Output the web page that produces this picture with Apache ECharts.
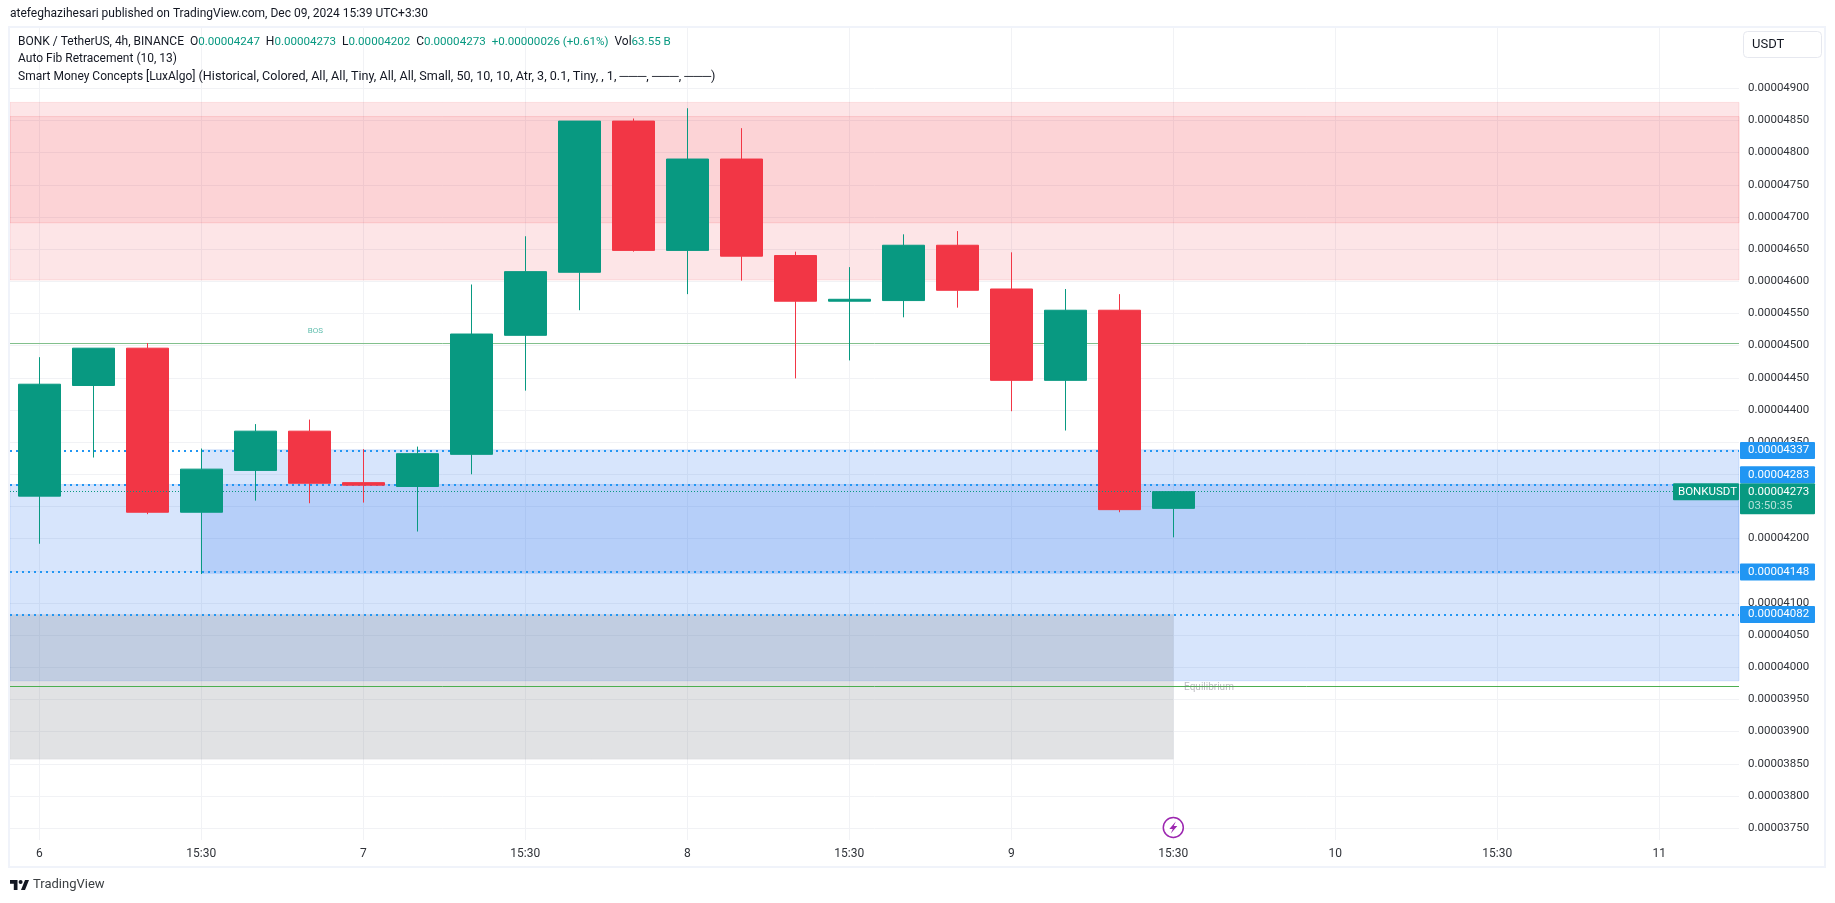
<!DOCTYPE html>
<html>
<head>
  <meta charset="utf-8">
  <title>BONKUSDT 4h</title>
  <script src="https://cdn.jsdelivr.net/npm/echarts@6/dist/echarts.min.js"></script>
  <style>
    html, body { margin: 0; padding: 0; background: #fff; }
  </style>
</head>
<body>
<div id="main" style="width: 1835px;height:903px;"></div>
<script type="text/javascript">
  // prices are in units of 0.00000001 USDT, the axis formatter turns them back
  var opens  = [4266, 4438, 4496, 4241, 4306, 4367, 4287, 4281, 4331, 4516, 4614, 4849, 4648, 4790, 4640, 4569, 4570, 4656, 4588, 4446, 4555, 4247];
  var closes = [4440, 4496, 4241, 4308, 4367, 4286, 4283, 4332, 4518, 4615, 4849, 4648, 4790, 4639, 4569, 4572, 4656, 4586, 4446, 4555, 4245, 4273];
  var lows   = [4192, 4326, 4238, 4145, 4259, 4255, 4256, 4211, 4300, 4430, 4555, 4646, 4580, 4601, 4449, 4477, 4544, 4559, 4398, 4368, 4241, 4202];
  var highs  = [4482, 4496, 4504, 4340, 4378, 4385, 4339, 4343, 4595, 4670, 4849, 4853, 4869, 4838, 4646, 4622, 4673, 4678, 4645, 4588, 4580, 4273];

  var timeTicks = [0, 3, 6, 9, 12, 15, 18, 21, 24, 27, 30];
  var timeLabels = ['6', '15:30', '7', '15:30', '8', '15:30', '9', '15:30', '10', '15:30', '11'];
  var priceTicks = [3750, 3800, 3850, 3900, 3950, 4000, 4050, 4100, 4150, 4200, 4250, 4300, 4350, 4400, 4450, 4500, 4550, 4600, 4650, 4700, 4750, 4800, 4850, 4900];

  // zones: [x from, x to, price top, price bottom]
  var xMin = -0.5426, xMax = 31.476;
  var premiumZone = [xMin, xMax, 4878, 4602];
  var premiumInner = [xMin, xMax, 4856, 4691];
  var demandZone = [xMin, xMax, 4284, 3979];
  var demandInner = [3, xMax, 4338, 4146];
  var grayZone = [xMin, 21, 4082, 3857];

  var dottedLevels = [4337, 4283, 4148, 4082];
  var bosLevel = 4503;
  var equilibriumLevel = 3970;
  var lastPrice = 4273;

  var GREEN = '#089981', RED = '#f23645', BLUE = '#2196f3', GRID = '#f1f2f5', TEXT = '#131722', AXIS_TEXT = '#2f3238';
  var FONT = 'Roboto';

  function fmt(v) { return (v / 1e8).toFixed(8); }

  var candles = opens.map(function (o, i) { return [i, o, closes[i], lows[i], highs[i]]; });

  function zone(z, fill, border) {
    return [
      {xAxis: z[0], yAxis: z[2], itemStyle: {color: fill, borderColor: border, borderWidth: 1}},
      {xAxis: z[1], yAxis: z[3]}
    ];
  }

  function hLine(level, color, width, dash) {
    return {yAxis: level, lineStyle: {color: color, width: width, type: dash}};
  }

  var chartDom = document.getElementById('main');
  var myChart = echarts.init(chartDom);

  // ticks count from min when interval is set, so the grid is drawn from the tick lists
  var gridLines = priceTicks.map(function (p) { return {yAxis: p}; })
    .concat(timeTicks.map(function (t) { return {xAxis: t}; }));

  var option = {
    animation: false,
    backgroundColor: '#fff',
    grid: {left: 10, right: 96, top: 28, bottom: 63},
    xAxis: {
      type: 'value',
      min: xMin,
      max: xMax,
      axisLine: {show: false},
      axisTick: {show: false},
      splitLine: {show: false},
      axisLabel: {
        margin: 8,
        color: AXIS_TEXT,
        fontFamily: FONT,
        fontSize: 12,
        customValues: timeTicks,
        formatter: function (v) { return timeLabels[timeTicks.indexOf(v)]; }
      }
    },
    yAxis: {
      type: 'value',
      position: 'right',
      min: 3731.5,
      max: 4993.7,
      axisLine: {show: false},
      axisTick: {show: false},
      splitLine: {show: false},
      axisLabel: {
        margin: 9,
        color: AXIS_TEXT,
        fontFamily: FONT,
        fontSize: 11.5,
        customValues: priceTicks,
        formatter: fmt
      }
    },
    series: [
      {
        type: 'line',
        name: 'grid',
        data: [],
        z: 0,
        markLine: {
          silent: true,
          symbol: 'none',
          z: 0,
          label: {show: false},
          lineStyle: {color: GRID, width: 1, type: 'solid'},
          data: gridLines
        }
      },
      {
        type: 'candlestick',
        name: 'BONKUSDT',
        barWidth: 42,
        data: candles,
        encode: {x: 0, y: [1, 2, 3, 4]},
        itemStyle: {color: GREEN, color0: RED, borderColor: GREEN, borderColor0: RED, borderWidth: 1},
        markArea: {
          silent: true,
          z: 1,
          data: [
            zone(premiumZone, 'rgba(242,54,69,0.13)', 'rgba(242,54,69,0.12)'),
            zone(premiumInner, 'rgba(242,54,69,0.10)', 'rgba(242,54,69,0.15)'),
            zone(demandZone, 'rgba(33,110,240,0.18)', 'rgba(33,110,240,0.15)'),
            zone(demandInner, 'rgba(33,110,240,0.18)', 'rgba(33,110,240,0.15)'),
            zone(grayZone, 'rgba(120,123,134,0.22)', 'rgba(120,123,134,0.05)')
          ]
        },
        markLine: {
          silent: true,
          symbol: 'none',
          z: 1,
          label: {show: false},
          data: dottedLevels.map(function (l) { return hLine(l, BLUE, 2, [2, 4]); })
            .concat([hLine(bosLevel, '#82c08c', 1, 'solid'), hLine(equilibriumLevel, '#4caf50', 1, 'solid')])
        }
      },
      {
        // last price dots sit on top of the candles
        type: 'line',
        name: 'last',
        data: [],
        markLine: {
          silent: true,
          symbol: 'none',
          z: 6,
          label: {show: false},
          data: [hLine(lastPrice, GREEN, 1, [1, 2])]
        }
      }
    ]
  };

  myChart.setOption(option);

  function px(x, y) { return myChart.convertToPixel({gridIndex: 0}, [x, y]); }

  function txt(x, y, text, size, color, extra) {
    var style = {text: text, x: x, y: y, fill: color, font: size + 'px ' + FONT, textVerticalAlign: 'middle'};
    for (var k in extra) style[k] = extra[k];
    return {type: 'text', z: 50, silent: true, style: style};
  }

  function box(x, y, w, h, fill) {
    return {type: 'rect', z: 40, silent: true, shape: {x: x, y: y, width: w, height: h, r: 1}, style: {fill: fill}};
  }

  function poly(points, fill) {
    return {type: 'polygon', z: 41, silent: true, shape: {points: points}, style: {fill: fill}};
  }

  // price tags on the axis; the 4283 one is pushed up by the last price tag
  function priceTag(level, shift) {
    var cy = px(0, level)[1] + shift;
    return [box(1740, cy - 8.5, 75, 17, BLUE), txt(1748, cy, fmt(level), 11.5, '#fff')];
  }

  var lastY = px(0, lastPrice)[1];
  var boltX = px(21, 0)[0];
  var bosPt = px(4.97, bosLevel);
  var eqPt = px(21.2, equilibriumLevel);

  var last = candles.length - 1;
  var ohlcLine = 'BONK / TetherUS, 4h, BINANCE  O{v|' + fmt(opens[last]) + '}  H{v|' + fmt(highs[last]) +
    '}  L{v|' + fmt(lows[last]) + '}  C{v|' + fmt(closes[last]) + '}  {v|+' + fmt(closes[last] - opens[last]) +
    ' (+0.61%)}  Vol{v|63.55 B}';
  var smcLine = 'Smart Money Concepts [LuxAlgo] {p|(Historical, Colored, All, All, Tiny, All, All, Small, 50, 10, 10, Atr, 3, 0.1, Tiny, , 1, \u2500\u2500\u2500, \u2500\u2500\u2500, \u2500\u2500\u2500)}';

  var graphics = [
    // chart frame
    {type: 'rect', z: 30, silent: true, shape: {x: 9, y: 27, width: 1816, height: 840}, style: {fill: 'none', stroke: '#f0f3fa', lineWidth: 2}},
    txt(10, 14, 'atefeghazihesari published on TradingView.com, Dec 09, 2024 15:39 UTC+3:30', 12, TEXT),
    txt(18, 41.7, ohlcLine, 12, TEXT, {rich: {v: {fill: GREEN, font: '11.6px ' + FONT}}}),
    txt(18, 59.2, 'Auto Fib Retracement (10, 13)', 12, TEXT),
    txt(18, 76.7, smcLine, 12, TEXT, {rich: {p: {fill: TEXT, font: '12.6px ' + FONT}}}),
    // currency button
    {type: 'rect', z: 40, silent: true, shape: {x: 1743.5, y: 31.5, width: 78, height: 26, r: 4}, style: {fill: '#fff', stroke: '#e6e8ef', lineWidth: 1}},
    txt(1752, 45, 'USDT', 13, TEXT),
    // markers on the chart
    txt(bosPt[0], bosPt[1] - 13, 'BOS', 8, 'rgba(8,153,129,0.65)'),
    txt(eqPt[0], eqPt[1] + 0.5, 'Equilibrium', 10, 'rgba(120,123,134,0.5)'),
    // last price tags
    box(1673, lastY - 8.5, 66, 17, GREEN),
    txt(1678, lastY, 'BONKUSDT', 11.5, '#fff'),
    box(1740, lastY - 8.5, 75, 31, GREEN),
    txt(1748, lastY, fmt(lastPrice), 11.5, '#fff'),
    txt(1748, lastY + 14, '03:50:35', 11.5, 'rgba(255,255,255,0.7)'),
    // news marker
    {type: 'circle', z: 40, silent: true, shape: {cx: boltX, cy: 827.5, r: 10}, style: {fill: '#fff', stroke: '#9c27b0', lineWidth: 1.5}},
    poly([[boltX + 2.5, 821.5], [boltX - 4, 829], [boltX - 0.5, 829], [boltX - 2.5, 833.5], [boltX + 4, 826], [boltX + 0.5, 826]], '#9c27b0'),
    // footer logo
    poly([[10, 880], [17.5, 880], [17.5, 890], [13.8, 890], [13.8, 883.7], [10, 883.7]], TEXT),
    poly([[25, 880], [29, 880], [25, 890], [21, 890]], TEXT),
    {type: 'circle', z: 41, silent: true, shape: {cx: 20.6, cy: 882, r: 2}, style: {fill: TEXT}},
    txt(33, 885, 'TradingView', 13, '#3c4043')
  ];
  dottedLevels.forEach(function (l) {
    var shift = l === 4283 ? -10.5 : 0;
    graphics = graphics.concat(priceTag(l, shift));
  });

  myChart.setOption({graphic: {elements: graphics}});
</script>
</body>
</html>
